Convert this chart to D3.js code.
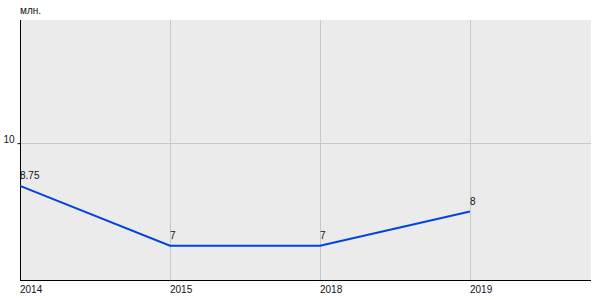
<!DOCTYPE html>
<html>
<head>
<meta charset="utf-8">
<script src="https://cdn.jsdelivr.net/npm/d3@7"></script>
<style>
  body { margin: 0; background: #fff; }
  text { font-family: "Liberation Sans", Arial, sans-serif; fill: #111; }
</style>
</head>
<body>
<div id="chart"></div>
<script>
var years = ['2014', '2015', '2018', '2019'];
var values = [8.75, 7, 7, 8];
var valueLabels = ['8.75', '7', '7', '8'];
var yTicks = [10];
var unitLabel = 'млн.';

var width = 600, height = 300;
var plotLeft = 20, plotRight = 591, plotTop = 20, plotBottom = 280;

var svg = d3.select('#chart').append('svg')
    .attr('width', width)
    .attr('height', height);

// index scale; plot runs a bit past the last category
var xscale = d3.scaleLinear()
    .domain([0, 3.807])
    .range([plotLeft, plotRight]);

var yscale = d3.scaleLinear()
    .domain([6, 13.6])
    .range([plotBottom, plotTop]);

svg.append('rect')
    .attr('x', plotLeft)
    .attr('y', plotTop)
    .attr('width', plotRight - plotLeft)
    .attr('height', plotBottom - plotTop)
    .attr('fill', '#ebebeb');

// vertical gridlines
svg.selectAll('.vgrid')
    .data(years)
    .enter().append('line')
      .attr('class', 'vgrid')
      .attr('x1', (d, i) => Math.round(xscale(i)) + 0.5)
      .attr('x2', (d, i) => Math.round(xscale(i)) + 0.5)
      .attr('y1', plotTop)
      .attr('y2', plotBottom)
      .attr('stroke', '#c8c8c8');

// horizontal gridlines
svg.selectAll('.hgrid')
    .data(yTicks)
    .enter().append('line')
      .attr('class', 'hgrid')
      .attr('x1', plotLeft)
      .attr('x2', plotRight)
      .attr('y1', d => Math.round(yscale(d)) + 0.5)
      .attr('y2', d => Math.round(yscale(d)) + 0.5)
      .attr('stroke', '#c8c8c8');

// y axis
var yaxis = d3.axisLeft(yscale).tickValues(yTicks).tickSize(3).tickPadding(3);
var yg = svg.append('g')
    .attr('transform', 'translate(' + (plotLeft + 0.5) + ',0)')
    .call(yaxis);
yg.select('.domain').remove();
yg.selectAll('line').attr('stroke', '#000');
yg.selectAll('text')
    .attr('font-size', 10)
    .attr('font-family', '"Liberation Sans", Arial, sans-serif')
    .attr('fill', '#111')
    .attr('dy', '-0.05em');

svg.append('line')
    .attr('x1', plotLeft + 0.5).attr('x2', plotLeft + 0.5)
    .attr('y1', plotTop).attr('y2', plotBottom)
    .attr('stroke', '#000');

svg.append('line')
    .attr('x1', plotLeft).attr('x2', plotRight)
    .attr('y1', plotBottom + 0.5).attr('y2', plotBottom + 0.5)
    .attr('stroke', '#000');

// x labels
svg.selectAll('.xlabel')
    .data(years)
    .enter().append('text')
      .attr('class', 'xlabel')
      .attr('x', (d, i) => xscale(i))
      .attr('y', plotBottom + 13)
      .attr('font-size', 10)
      .text(d => d);

// line
var line = d3.line()
    .x((d, i) => xscale(i))
    .y(d => yscale(d));

svg.append('path')
    .datum(values)
    .attr('d', line)
    .attr('fill', 'none')
    .attr('stroke', '#0044dd')
    .attr('stroke-width', 2);

// value labels
svg.selectAll('.vlabel')
    .data(values)
    .enter().append('text')
      .attr('class', 'vlabel')
      .attr('x', (d, i) => xscale(i))
      .attr('y', d => yscale(d) - 7)
      .attr('font-size', 10)
      .text((d, i) => valueLabels[i]);

svg.append('text')
    .attr('x', plotLeft)
    .attr('y', 14)
    .attr('font-size', 10)
    .text(unitLabel);
</script>
</body>
</html>
